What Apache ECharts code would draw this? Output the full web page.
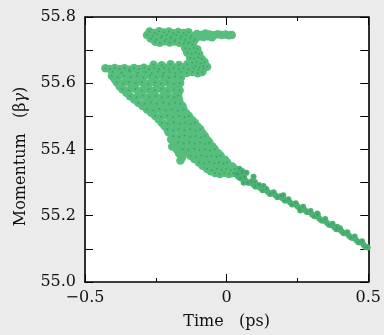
<!DOCTYPE html>
<html>
<head>
<meta charset="utf-8">
<script src="https://cdn.jsdelivr.net/npm/echarts@6/dist/echarts.min.js"></script>
<style>
html,body{margin:0;padding:0;background:#eaebea;}
#chart{width:384px;height:335px;}
</style>
</head>
<body>
<div id="chart"></div>
<script>
// Tick label values
var xTicks = [-0.5, 0, 0.5];
var yTicks = [55.0, 55.2, 55.4, 55.6, 55.8];

// Particle samples [time (ps), momentum (beta*gamma)]
var topBand = [
[-0.272,55.756],[-0.255,55.752],[-0.238,55.757],[-0.221,55.753],[-0.204,55.756],[-0.188,55.751],[-0.171,55.755],[-0.152,55.752],[-0.135,55.754],
[-0.281,55.746],[-0.262,55.742],[-0.246,55.747],[-0.228,55.743],[-0.211,55.746],[-0.195,55.741],[-0.178,55.745],[-0.160,55.742],[-0.143,55.746],[-0.124,55.743],
[-0.268,55.735],[-0.249,55.732],[-0.231,55.737],[-0.214,55.733],[-0.198,55.736],[-0.181,55.731],[-0.163,55.735],[-0.146,55.732],[-0.128,55.736],[-0.112,55.733],
[-0.252,55.725],[-0.236,55.722],[-0.219,55.727],[-0.201,55.723],[-0.184,55.726],[-0.167,55.722],[-0.149,55.726],[-0.131,55.724],[-0.116,55.727]
];
var topTail = [
[-0.105,55.749],[-0.090,55.746],[-0.075,55.750],[-0.060,55.747],[-0.046,55.745],[-0.032,55.748],[-0.018,55.746],[-0.004,55.747],[0.008,55.745],[0.018,55.746],
[-0.098,55.741],[-0.082,55.740],[-0.066,55.742],[-0.052,55.739]
];
var diagonal = [
[-0.152,55.718],[-0.137,55.721],[-0.121,55.717],
[-0.146,55.706],[-0.131,55.703],[-0.116,55.707],[-0.104,55.703],
[-0.139,55.692],[-0.124,55.689],[-0.109,55.693],[-0.097,55.688],
[-0.129,55.677],[-0.114,55.674],[-0.100,55.678],[-0.088,55.673],
[-0.121,55.662],[-0.106,55.664],[-0.092,55.660],[-0.078,55.664],
[-0.110,55.651],[-0.096,55.648],[-0.082,55.652],[-0.069,55.650]
];
var lowerBand = [
[-0.428,55.645],[-0.412,55.643],[-0.395,55.646],[-0.378,55.642],[-0.361,55.645],[-0.344,55.641],[-0.327,55.646],[-0.309,55.643],[-0.292,55.647],[-0.274,55.642],[-0.256,55.646],[-0.239,55.643],[-0.221,55.647],[-0.204,55.642],[-0.187,55.646],[-0.169,55.643],[-0.152,55.647],[-0.134,55.642],[-0.117,55.645],[-0.099,55.641],[-0.082,55.644],
[-0.402,55.635],[-0.371,55.632],[-0.342,55.636],[-0.314,55.631],[-0.286,55.634],[-0.264,55.630],[-0.243,55.635],[-0.222,55.631],[-0.201,55.634],[-0.181,55.630],[-0.162,55.635],[-0.141,55.631],[-0.121,55.634],[-0.102,55.630],[-0.086,55.634],
[-0.258,55.656],[-0.229,55.654],[-0.198,55.657],[-0.168,55.655],[-0.139,55.657]
];
var body = [
[-0.405,55.622],[-0.384,55.618],[-0.362,55.623],[-0.339,55.619],[-0.317,55.622],[-0.294,55.618],[-0.271,55.623],[-0.249,55.619],[-0.226,55.622],[-0.204,55.617],[-0.182,55.621],[-0.161,55.618],
[-0.388,55.603],[-0.366,55.599],[-0.344,55.604],[-0.321,55.600],[-0.298,55.603],[-0.276,55.598],[-0.253,55.602],[-0.231,55.599],[-0.208,55.603],[-0.186,55.598],[-0.164,55.601],
[-0.368,55.582],[-0.346,55.579],[-0.322,55.583],[-0.299,55.578],[-0.276,55.582],[-0.253,55.579],[-0.230,55.583],[-0.208,55.578],[-0.186,55.581],[-0.166,55.578],
[-0.341,55.561],[-0.318,55.558],[-0.296,55.562],[-0.273,55.558],[-0.251,55.561],[-0.229,55.557],[-0.207,55.561],[-0.186,55.558],[-0.171,55.562],
[-0.312,55.541],[-0.290,55.538],[-0.268,55.542],[-0.246,55.538],[-0.224,55.541],[-0.203,55.537],[-0.182,55.541],[-0.164,55.538],
[-0.281,55.521],[-0.259,55.518],[-0.237,55.522],[-0.215,55.518],[-0.194,55.521],[-0.173,55.517],[-0.152,55.521],
[-0.252,55.501],[-0.231,55.498],[-0.210,55.502],[-0.189,55.498],[-0.168,55.501],[-0.149,55.497],[-0.133,55.501],
[-0.229,55.481],[-0.208,55.478],[-0.187,55.482],[-0.166,55.478],[-0.146,55.481],[-0.127,55.477],[-0.112,55.481],
[-0.209,55.461],[-0.189,55.458],[-0.169,55.462],[-0.149,55.458],[-0.129,55.461],[-0.110,55.457],[-0.093,55.461],
[-0.188,55.441],[-0.168,55.438],[-0.148,55.442],[-0.128,55.438],[-0.109,55.441],[-0.091,55.437],[-0.077,55.441],
[-0.172,55.421],[-0.152,55.418],[-0.132,55.422],[-0.113,55.418],[-0.094,55.421],[-0.076,55.417],[-0.061,55.421],
[-0.155,55.401],[-0.135,55.398],[-0.115,55.402],[-0.096,55.398],[-0.077,55.401],[-0.059,55.397],[-0.042,55.401],
[-0.128,55.381],[-0.109,55.378],[-0.090,55.382],[-0.071,55.378],[-0.053,55.381],[-0.036,55.377],[-0.021,55.381],
[-0.098,55.361],[-0.080,55.358],[-0.062,55.362],[-0.044,55.358],[-0.027,55.361],[-0.011,55.357],[0.002,55.361],
[-0.069,55.341],[-0.052,55.338],[-0.035,55.342],[-0.018,55.338],[-0.002,55.341],[0.014,55.337],[0.028,55.341],
[-0.041,55.329],[-0.024,55.326],[-0.008,55.330],[0.008,55.326],[0.024,55.329],[0.040,55.325],[0.053,55.328]
];
var bodyExtra = [
[-0.395,55.612],[-0.352,55.609],[-0.306,55.613],[-0.262,55.608],[-0.217,55.611],[-0.173,55.609],
[-0.378,55.591],[-0.333,55.592],[-0.287,55.589],[-0.242,55.592],[-0.197,55.588],[-0.171,55.590],
[-0.354,55.571],[-0.308,55.569],[-0.264,55.572],[-0.219,55.568],[-0.177,55.571],
[-0.326,55.551],[-0.281,55.549],[-0.238,55.552],[-0.194,55.548],[-0.168,55.551],
[-0.297,55.531],[-0.256,55.529],[-0.213,55.532],[-0.173,55.528],[-0.156,55.531],
[-0.266,55.511],[-0.224,55.509],[-0.183,55.512],[-0.142,55.509],
[-0.240,55.491],[-0.199,55.489],[-0.158,55.492],[-0.122,55.489],
[-0.219,55.471],[-0.177,55.469],[-0.137,55.472],[-0.102,55.469],
[-0.198,55.451],[-0.158,55.449],[-0.118,55.452],[-0.085,55.449],
[-0.180,55.431],[-0.139,55.429],[-0.101,55.432],[-0.068,55.429],
[-0.163,55.411],[-0.124,55.409],[-0.086,55.412],[-0.050,55.409],
[-0.142,55.391],[-0.101,55.389],[-0.062,55.392],[-0.030,55.389],
[-0.114,55.371],[-0.072,55.369],[-0.035,55.372],[-0.006,55.369],
[-0.085,55.351],[-0.043,55.349],[-0.008,55.352],[0.020,55.349],
[-0.056,55.334],[-0.015,55.333],[0.032,55.334]
];
var sparse = [
[-0.205,55.452],[-0.196,55.431],[-0.184,55.418],[-0.176,55.401],[-0.168,55.389],[-0.158,55.376],[-0.192,55.409],[-0.163,55.367],[-0.178,55.432],[-0.212,55.468]
];
var tailLine = [
[0.035,55.326],[0.048,55.313],[0.062,55.318],[0.075,55.300],[0.088,55.304],[0.101,55.288],[0.114,55.293],[0.127,55.277],[0.140,55.281],[0.153,55.266],
[0.166,55.271],[0.179,55.256],[0.192,55.260],[0.205,55.246],[0.218,55.250],[0.231,55.234],[0.244,55.238],[0.257,55.223],[0.270,55.227],[0.283,55.211],
[0.296,55.214],[0.309,55.199],[0.322,55.203],[0.335,55.186],[0.348,55.190],[0.361,55.173],[0.374,55.176],[0.387,55.159],[0.400,55.162],[0.413,55.147],
[0.426,55.150],[0.439,55.134],[0.452,55.137],[0.465,55.120],[0.478,55.123],[0.490,55.106],[0.498,55.104],
[0.060,55.300],[0.100,55.302],[0.130,55.290],[0.200,55.262],[0.260,55.216],[0.320,55.207],[0.390,55.167],
[0.045,55.342],[0.070,55.330],[0.095,55.318],[0.055,55.335]
];
var tailMid = [
[0.041,55.318],[0.055,55.312],[0.068,55.306],[0.081,55.300],[0.094,55.294],[0.107,55.288],[0.120,55.283],[0.133,55.278],[0.146,55.272],[0.159,55.267],
[0.172,55.262],[0.185,55.257],[0.198,55.252],[0.211,55.246],[0.224,55.240],[0.237,55.235],[0.250,55.229],[0.263,55.223],[0.276,55.217],[0.289,55.211],
[0.302,55.204],[0.315,55.198],[0.328,55.191],[0.341,55.185],[0.354,55.179],[0.367,55.172],[0.380,55.165],[0.393,55.159],[0.406,55.153],[0.419,55.147],
[0.432,55.140],[0.445,55.133],[0.458,55.126],[0.471,55.119],[0.484,55.112],[0.495,55.106]
];

var bunchPoints = [].concat(topBand, topTail, diagonal, lowerBand, body, bodyExtra, sparse);
var tailPoints = [].concat(tailLine, tailMid);
var specks = [].concat(body, lowerBand, topBand, diagonal, tailLine);

var FONT = 'DejaVu Serif';
function fmt(v){ return String(v).replace('-', '\u2212'); }

var axisLineStyle = {color:'#000', width:1.6};
function xAxisDef(pos, showLabel){
  return {
    type:'value', position:pos, min:xTicks[0], max:xTicks[xTicks.length-1], interval:0.5,
    axisLine:{show:true, onZero:false, lineStyle:axisLineStyle},
    axisTick:{show:true, inside:true, length:8, lineStyle:{color:'#000', width:1}},
    minorTick:{show:true, splitNumber:2, length:4, lineStyle:{color:'#000', width:1}},
    splitLine:{show:false},
    axisLabel:{show:showLabel, fontFamily:FONT, fontSize:16, color:'#111', margin:8,
      formatter:function(v){ return v===0 ? '0' : fmt(v.toFixed(1)); }},
    name: showLabel ? 'Time   (ps)' : '', nameLocation:'middle', nameGap:32,
    nameTextStyle:{fontFamily:FONT, fontSize:16, color:'#111'}
  };
}
function yAxisDef(pos, showLabel){
  return {
    type:'value', position:pos, min:yTicks[0], max:yTicks[yTicks.length-1], interval:0.2,
    axisLine:{show:true, onZero:false, lineStyle:axisLineStyle},
    axisTick:{show:true, inside:true, length:8, lineStyle:{color:'#000', width:1}},
    minorTick:{show:true, splitNumber:2, length:8, lineStyle:{color:'#000', width:1}},
    splitLine:{show:false},
    axisLabel:{show:showLabel, fontFamily:FONT, fontSize:16, color:'#111', margin:9,
      formatter:function(v){ return v.toFixed(1); }},
    name: showLabel ? 'Momentum   (\u03b2{g|\u03b3})' : '', nameLocation:'middle', nameGap:56,
    nameTextStyle:{fontFamily:FONT, fontSize:16, color:'#111', padding:[0,14,0,0],
      rich:{g:{fontFamily:FONT, fontSize:16, fontStyle:'italic', color:'#111'}}}
  };
}

var chart = echarts.init(document.getElementById('chart'), null, {renderer:'canvas'});
chart.setOption({
  backgroundColor:'#eaebea',
  animation:false,
  grid:{left:85, right:12, top:17, bottom:51, show:true, backgroundColor:'#ffffff', borderWidth:0},
  xAxis:[xAxisDef('bottom', true), xAxisDef('top', false)],
  yAxis:[yAxisDef('left', true), yAxisDef('right', false)],
  series:[
    {type:'scatter', xAxisIndex:0, yAxisIndex:0, data:bunchPoints, symbolSize:8.5,
      itemStyle:{color:'#57bf7e', opacity:1}, silent:true},
    {type:'scatter', xAxisIndex:0, yAxisIndex:0, data:tailPoints, symbolSize:6,
      itemStyle:{color:'#4cb273', opacity:1}, silent:true},
    {type:'scatter', xAxisIndex:0, yAxisIndex:0, data:specks, symbolSize:2,
      itemStyle:{color:'#2f8f58', opacity:0.55}, silent:true}
  ]
});
</script>
</body>
</html>
